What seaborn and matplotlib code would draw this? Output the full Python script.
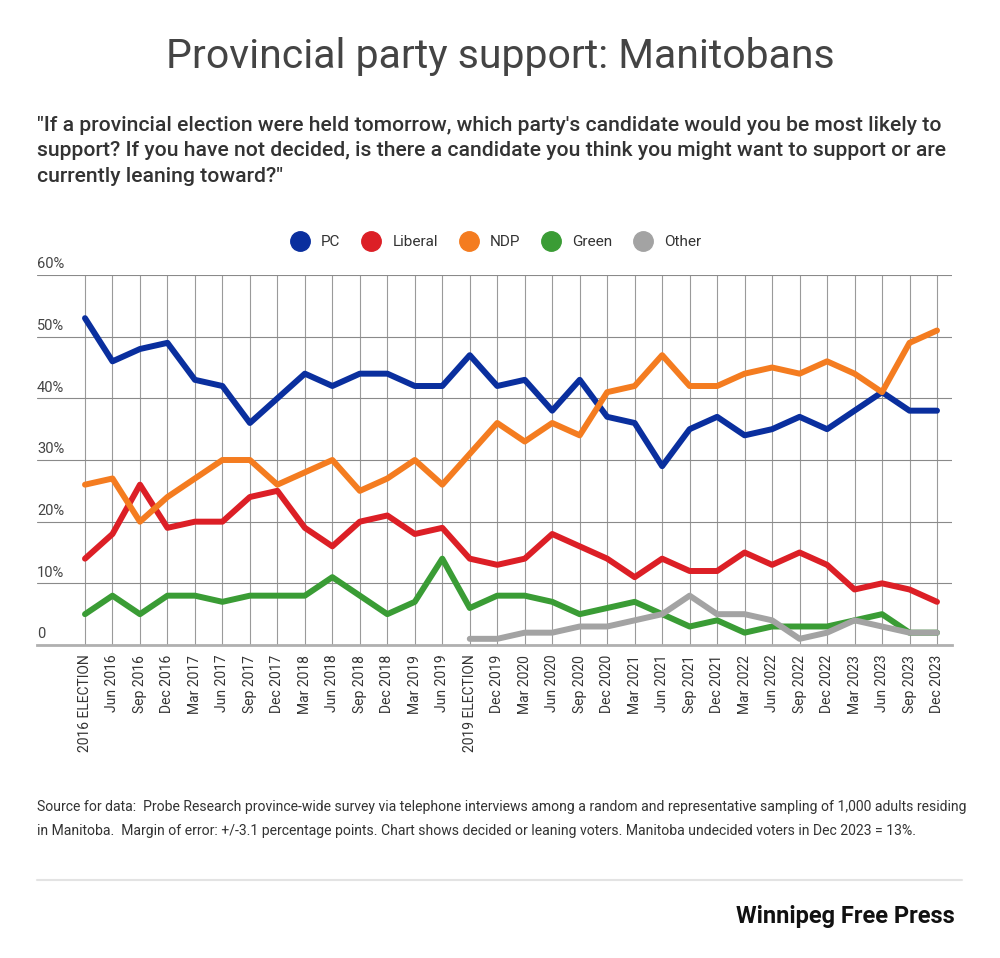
import numpy as np
import pandas as pd
import matplotlib
matplotlib.use("Agg")
import matplotlib.pyplot as plt
import seaborn as sns
from matplotlib.lines import Line2D

periods = ["2016 ELECTION", "Jun 2016", "Sep 2016", "Dec 2016", "Mar 2017", "Jun 2017",
           "Sep 2017", "Dec 2017", "Mar 2018", "Jun 2018", "Sep 2018", "Dec 2018",
           "Mar 2019", "Jun 2019", "2019 ELECTION", "Dec 2019", "Mar 2020", "Jun 2020",
           "Sep 2020", "Dec 2020", "Mar 2021", "Jun 2021", "Sep 2021", "Dec 2021",
           "Mar 2022", "Jun 2022", "Sep 2022", "Dec 2022", "Mar 2023", "Jun 2023",
           "Sep 2023", "Dec 2023"]

pc = [53, 46, 48, 49, 43, 42, 36, 40, 44, 42, 44, 44, 42, 42, 47, 42,
      43, 38, 43, 37, 36, 29, 35, 37, 34, 35, 37, 35, 38, 41, 38, 38]
liberal = [14, 18, 26, 19, 20, 20, 24, 25, 19, 16, 20, 21, 18, 19, 14, 13,
           14, 18, 16, 14, 11, 14, 12, 12, 15, 13, 15, 13, 9, 10, 9, 7]
ndp = [26, 27, 20, 24, 27, 30, 30, 26, 28, 30, 25, 27, 30, 26, 31, 36,
       33, 36, 34, 41, 42, 47, 42, 42, 44, 45, 44, 46, 44, 41, 49, 51]
green = [5, 8, 5, 8, 8, 7, 8, 8, 8, 11, 8, 5, 7, 14, 6, 8,
         8, 7, 5, 6, 7, 5, 3, 4, 2, 3, 3, 3, 4, 5, 2, 2]
# "Other" only polled from the 2019 election onward
other = [np.nan] * 14 + [1, 1, 2, 2, 3, 3, 4, 5, 8, 5, 5, 4, 1, 2, 4, 3, 2, 2]

parties = ["PC", "Liberal", "NDP", "Green", "Other"]
colors = ["#0a2f9e", "#dc1f26", "#f47c20", "#3a9c35", "#a3a3a3"]
y_ticks = [0, 10, 20, 30, 40, 50, 60]

pos = np.arange(len(periods))
df = pd.DataFrame({"PC": pc, "Liberal": liberal, "NDP": ndp, "Green": green, "Other": other})
df["x"] = pos
long = df.melt(id_vars="x", var_name="party", value_name="share").dropna()

sns.set_style("white")
plt.rcParams["font.family"] = ["Roboto", "DejaVu Sans"]

fig = plt.figure(figsize=(10, 9.58), dpi=100)
W, H = 1000, 958
# axes spans the gridline box: x 37..952 px, y 275..645 px
ax = fig.add_axes([37 / W, 1 - 645 / H, (952 - 37) / W, (645 - 275) / H])

sns.lineplot(data=long, x="x", y="share", hue="party", hue_order=parties,
             palette=colors, linewidth=4.3, estimator=None, sort=True,
             legend=False, ax=ax, zorder=3)

step = (937 - 85) / (len(periods) - 1)
ax.set_xlim(-(85 - 37) / step, (len(periods) - 1) + (952 - 937) / step)
ax.set_ylim(0, 60)
ax.set_xticks(pos)
ax.set_xticklabels(periods, rotation=90, fontsize=10, color="#333333")
ax.set_yticks(y_ticks)
ax.tick_params(axis="y", left=False, labelleft=False)
ax.tick_params(axis="x", length=5, color="#aaaaaa", width=1, pad=2)
ax.grid(axis="x", color="#9a9a9a", linewidth=0.8)
ax.grid(axis="y", color="#8a8a8a", linewidth=0.8)
ax.set_xlabel("")
ax.set_ylabel("")
for s in ["top", "right", "left"]:
    ax.spines[s].set_visible(False)
ax.spines["bottom"].set_color("#b0b0b0")
ax.spines["bottom"].set_linewidth(2)

xmin = ax.get_xlim()[0]
for v in y_ticks:
    lab = "0" if v == 0 else f"{v}%"
    ax.text(xmin, v + 0.6, lab, ha="left", va="bottom", fontsize=10.5, color="#444444")

fig.text(0.5, 1 - 57 / H, "Provincial party support: Manitobans", ha="center", va="center",
         fontsize=29.5, color="#444444")
fig.text(37 / W, 1 - 116 / H,
         "\"If a provincial election were held tomorrow, which party's candidate would you be most likely to\n"
         "support? If you have not decided, is there a candidate you think you might want to support or are\n"
         "currently leaning toward?\"",
         ha="left", va="top", fontsize=15.2, color="#333333", fontweight="medium", linespacing=1.42)

handles = [Line2D([], [], marker="o", linestyle="", markersize=14, color=c) for c in colors]
fig.legend(handles, parties, loc="center", bbox_to_anchor=(0.493, 1 - 242 / H), ncol=5,
           frameon=False, fontsize=11, handletextpad=0.4, columnspacing=1.0,
           labelcolor="#333333")

fig.text(37 / W, 1 - 819 / H,
         "Source for data:  Probe Research province-wide survey via telephone interviews among a random and representative sampling of 1,000 adults residing\n"
         "in Manitoba.  Margin of error: +/-3.1 percentage points. Chart shows decided or leaning voters. Manitoba undecided voters in Dec 2023 = 13%.",
         ha="left", va="center", fontsize=10.1, color="#333333", linespacing=1.9)

fig.add_artist(Line2D([37 / W, 962 / W], [1 - 880 / H, 1 - 880 / H], color="#e3e3e3", linewidth=1.5))
fig.text(955 / W, 1 - 917 / H, "Winnipeg Free Press", ha="right", va="center",
         fontsize=17, fontweight="bold", color="#111111",
         family=["Liberation Sans Narrow", "Roboto", "DejaVu Sans"])

fig.savefig("out.png", dpi=100, facecolor="white")
